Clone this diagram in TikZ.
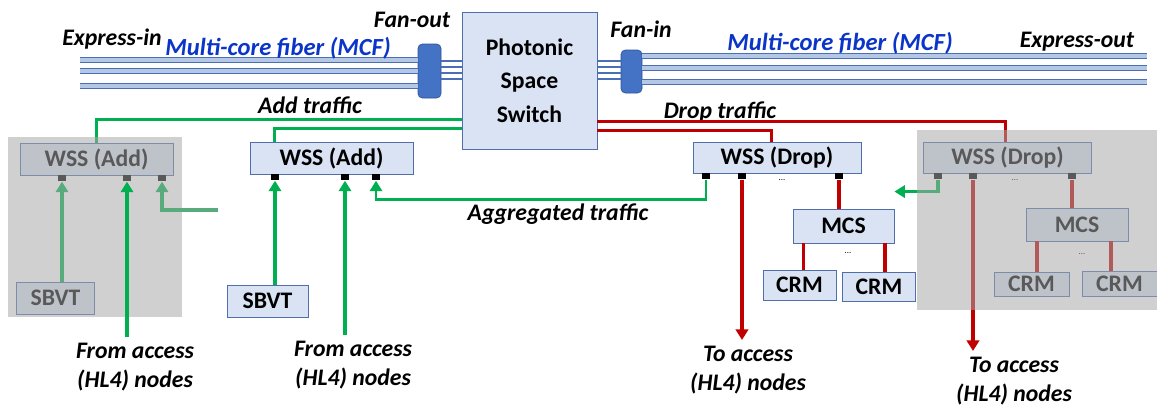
\documentclass[tikz,border=0pt]{standalone}
\usepackage{fontspec}
\setmainfont{Carlito}
\usepackage{tikz}
\usetikzlibrary{arrows.meta}
\usetikzlibrary{calc}
\definecolor{boxfill}{HTML}{DAE3F3}
\definecolor{boxdraw}{HTML}{4F6EAA}
\definecolor{fanfill}{HTML}{4472C4}
\definecolor{fandraw}{HTML}{2F5597}
\definecolor{fibfill}{HTML}{B4C7E7}
\definecolor{fibdraw}{HTML}{4A6FB5}
\definecolor{addgreen}{HTML}{00B050}
\definecolor{fadegreen}{HTML}{59AB7E}
\definecolor{dropred}{HTML}{C00000}
\definecolor{mcfblue}{HTML}{0B35C8}
\definecolor{overlaygray}{HTML}{A7A7A7}
\tikzstyle{box} = [rectangle, draw=boxdraw, fill=boxfill, line width=0.5pt, inner sep=0pt, font=\bfseries\fontsize{13.5}{16}\selectfont]
\tikzstyle{fan} = [rectangle, rounded corners=2.5pt, draw=fandraw, fill=fanfill, line width=0.4pt, inner sep=0pt]
\tikzstyle{port} = [rectangle, fill=black, minimum width=0.16cm, minimum height=0.12cm, inner sep=0pt, anchor=north]
\tikzstyle{lbl} = [font=\bfseries\itshape\fontsize{13.5}{17}\selectfont, inner sep=0pt]
\tikzstyle{dots} = [font=\tiny, inner sep=0pt]
\tikzstyle{fiber} = [draw=fibdraw, line width=0.6pt, double=fibfill, double distance=2.4pt]
\tikzstyle{core} = [draw=fibdraw, line width=1.1pt]
\tikzstyle{gline} = [addgreen, line width=1.8pt]
\tikzstyle{rline} = [dropred, line width=1.8pt]
\tikzstyle{garrow} = [gline, -{Triangle[width=7pt,length=6pt]}]
\tikzstyle{rarrow} = [rline, -{Triangle[width=7pt,length=6pt]}]

\begin{document}
\begin{tikzpicture}[x=0.02cm, y=-0.02cm]
\useasboundingbox (0,0) rectangle (1157,410);

% switch and fan-out / fan-in
\node (sw) [box, minimum width=2.7cm, minimum height=2.74cm, align=center] at (529.5,80.5) {Photonic\\[3pt]Space\\[3pt]Switch};
\node (fanout) [fan, minimum width=0.46cm, minimum height=1.08cm] at (429.5,71) {};
\node (fanin) [fan, minimum width=0.42cm, minimum height=0.86cm] at (631.5,71.5) {};

% multi-core fibers
\foreach \y [count=\i] in {60,71,86} {
  \coordinate (in\i) at (80,\y);
  \draw[fiber] (in\i) -- (in\i -| fanout.west);
}
\foreach \y [count=\i] in {56,68,82} {
  \coordinate (out\i) at (1147,\y);
  \draw[fiber] (fanin.east |- out\i) -- (out\i);
}
\foreach \y in {61,67,73,79} {
  \draw[core] (fanout.east |- 0,\y) -- (sw.west |- 0,\y);
  \draw[core] (sw.east |- 0,\y) -- (fanin.west |- 0,\y);
}

\node (expin) [lbl, anchor=base] at (112,45) {Express-in};
\node (mcfin) [lbl, anchor=base, text=mcfblue, font=\bfseries\itshape\fontsize{14}{17}\selectfont] at (278,55) {Multi-core fiber (MCF)};
\node (fanoutlbl) [lbl, anchor=base] at (412,27) {Fan-out};
\node (fanintlbl) [lbl, anchor=base] at (641,37) {Fan-in};
\node (mcfout) [lbl, anchor=base, text=mcfblue, font=\bfseries\itshape\fontsize{14}{17}\selectfont] at (840,50) {Multi-core fiber (MCF)};
\node (expout) [lbl, anchor=base] at (1077,47) {Express-out};

% add side
\node (gwssa) [box, minimum width=3.06cm, minimum height=0.64cm] at (96.5,159) {WSS (Add)};
\node (gsbvt) [box, minimum width=1.56cm, minimum height=0.64cm] at (55.5,298) {SBVT};
\node (wssa) [box, minimum width=3.26cm, minimum height=0.64cm] at (331.5,158) {WSS (Add)};
\node (sbvt) [box, minimum width=1.62cm, minimum height=0.64cm] at (267.5,301) {SBVT};
\node (gpa1) [port] at (62,175) {};
\node (gpa2) [port] at (127,175) {};
\node (gpa3) [port] at (162,175) {};
\node (pa1) [port] at (275,174) {};
\node (pa2) [port] at (345,174) {};
\node (pa3) [port] at (376,174) {};

\node (addlbl) [lbl, anchor=base] at (310,113) {Add traffic};
\node (froml) [lbl, align=center, anchor=north, inner sep=3pt] at (135,337) {From access\\(HL4) nodes};
\node (fromm) [lbl, align=center, anchor=north, inner sep=3pt] at (353,335) {From access\\(HL4) nodes};
\node (agglbl) [lbl, anchor=base] at (558,220) {Aggregated traffic};

\draw[gline] ($(sw.north west)+(0,108)$) -| (gwssa.north);
\draw[gline] ($(sw.north west)+(0,117)$) -| ($(wssa.north west)+(25,0)$);
\draw[garrow] (gpa1 |- gsbvt.north) -- (gpa1.south);
\draw[garrow] (pa1 |- sbvt.north) -- (pa1.south);
\draw[garrow] (pa2 |- fromm.north) -- (pa2.south);

% drop side
\node (wssd) [box, minimum width=3.36cm, minimum height=0.62cm] at (777,157.5) {WSS (Drop)};
\node (mcs) [box, minimum width=2.02cm, minimum height=0.68cm] at (843.5,226) {MCS};
\node (crm1) [box, minimum width=1.46cm, minimum height=0.60cm] at (799.5,285) {CRM};
\node (crm2) [box, minimum width=1.46cm, minimum height=0.58cm] at (879,286.5) {CRM};
\node (gwssd) [box, minimum width=3.36cm, minimum height=0.62cm] at (1007.5,157.5) {WSS (Drop)};
\node (gmcs) [box, minimum width=2.04cm, minimum height=0.66cm] at (1077,224.5) {MCS};
\node (gcrm1) [box, minimum width=1.50cm, minimum height=0.48cm] at (1031.5,284) {CRM};
\node (gcrm2) [box, minimum width=1.50cm, minimum height=0.50cm] at (1119.5,283.5) {CRM};
\node (pd1) [port] at (706,173) {};
\node (pd2) [port] at (742,173) {};
\node (pd3) [port] at (839,173) {};
\node (gpd1) [port] at (938,173) {};
\node (gpd2) [port] at (973,173) {};
\node (gpd3) [port] at (1072,173) {};
\node (dots1) [dots] at (782,180) {...};
\node (dots2) [dots] at (848,253) {...};
\node (dots3) [dots] at (1015,180) {...};
\node (dots4) [dots] at (1082,254) {...};

\node (droplbl) [lbl, anchor=base] at (720,118) {Drop traffic};
\node (tom) [lbl, align=center, anchor=north, inner sep=3pt] at (748,340) {To access\\(HL4) nodes};
\node (tor) [lbl, align=center, anchor=north, inner sep=3pt] at (1014,351) {To access\\(HL4) nodes};

\draw[rline] ($(sw.north east)+(0,110)$) -| ($(gwssd.north west)+(82,0)$);
\draw[rline] ($(sw.north east)+(0,119)$) -| ($(wssd.north west)+(79,0)$);
\draw[rarrow] (pd2.south) -- (pd2 |- tom.north);
\draw[rline] (pd3.south) -- (pd3 |- mcs.north);
\draw[rline] ($(crm1.north)+(4,0)$) -- ($(crm1.north)+(4,-27)$);
\draw[rline] ($(crm2.north)+(6,0)$) -- ($(crm2.north)+(6,-29)$);
\draw[rline] (gpd3.south) -- (gpd3 |- gmcs.north);
\draw[rline] ($(gcrm1.north)+(5.5,0)$) -- ($(gcrm1.north)+(5.5,-31)$);
\draw[rline] ($(gcrm2.north)+(-8.5,0)$) -- ($(gcrm2.north)+(-8.5,-30)$);
\draw[rarrow] (gpd2.south) -- (gpd2 |- tor.north);
\draw[garrow] (gpd1.south) |- ($(mcs.north east)+(0,-17)$);
\draw[garrow, line width=1.5pt] (pd1.south) -- ++(0,20) -| (pa3.south);

% shaded copies
\fill[overlaygray, fill opacity=0.533] (8,137) rectangle (182,317);
\fill[overlaygray, fill opacity=0.533] (917,130) rectangle (1157,310);
\coordinate (gfeed) at (218,210);
\draw[fadegreen, line width=1.8pt, -{Triangle[width=7pt,length=6pt]}] (gfeed) -| (gpa3.south);
\draw[garrow] (gpa2 |- froml.north) -- (gpa2.south);
\end{tikzpicture}
\end{document}
